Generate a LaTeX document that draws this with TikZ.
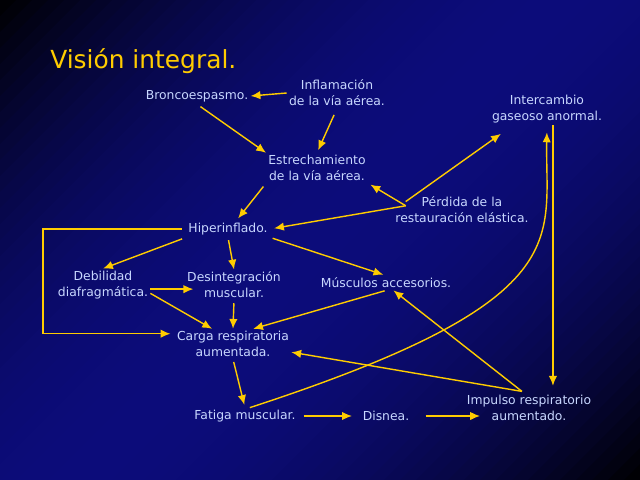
\documentclass[tikz,border=0pt]{standalone}
\usepackage{fontspec}
\setmainfont{DejaVu Sans}
\usetikzlibrary{arrows.meta}
\definecolor{gelb}{RGB}{255,204,0}
\definecolor{schrift}{RGB}{200,215,255}
\definecolor{marine}{RGB}{12,12,122}

\begin{document}
\begin{tikzpicture}[x=0.025cm, y=-0.025cm,
		>={Latex[length=7pt,width=6pt]},   %Pfeilspitzen
		txt/.style={text=schrift, align=center, inner sep=1.5pt, font=\fontsize{8.8}{11.4}\selectfont},
		pfeil/.style={->, gelb, line width=1pt}]
	% Hintergrund (Verlauf in diagonalen Streifen)
	\begin{scope}
		\clip (0,0) rectangle (640,480);
		\foreach \s in {0,16,...,1120} {
			\pgfmathsetmacro\p{max(0,min(100,100*(1-((\s+8-560)/560)^2)))}
			\fill[marine!\p!black] (\s,0) -- (\s+17,0) -- (\s+17-480,480) -- (\s-480,480) -- cycle;
		}
	\end{scope}
	\useasboundingbox (0,0) rectangle (640,480);
	% Titel
	\node[text=gelb, anchor=base west, inner sep=0pt, font=\fontsize{17.7}{20}\selectfont] (titel) at (50,68) {Visión integral.};
	% Knoten
	\node[txt] (bronco) at (197,96) {Broncoespasmo.};
	\node[txt] (infl) at (337,93) {Inflamación\\de la vía aérea.};
	\node[txt] (inter) at (547,109) {Intercambio\\gaseoso anormal.};
	\node[txt] (estr) at (317,168) {Estrechamiento\\de la vía aérea.};
	\node[txt] (perd) at (462,210) {Pérdida de la\\restauración elástica.};
	\node[txt] (hiper) at (228,229) {Hiperinflado.};
	\node[txt] (debil) at (103,285) {Debilidad\\diafragmática.};
	\node[txt] (desint) at (234,285) {Desintegración\\muscular.};
	\node[txt] (musc) at (386,283) {Músculos accesorios.};
	\node[txt] (carga) at (233,344) {Carga respiratoria\\aumentada.};
	\node[txt] (fatiga) at (245,416) {Fatiga muscular.};
	\node[txt] (disnea) at (386,416) {Disnea.};
	\node[txt] (impulso) at (529,408) {Impulso respiratorio\\aumentado.};
	\coordinate (perdq) at ([xshift=9pt,yshift=3pt]perd.west);
	\coordinate (impq) at ([xshift=-5pt,yshift=1pt]impulso.north);
	% Pfeile
	\draw[pfeil] (infl.west) -- (bronco.east);
	\draw[pfeil, shorten <=5pt, shorten >=2pt] (infl.south) -- (estr.north);
	\draw[pfeil, shorten <=3pt] (bronco.south) -- (estr.north west);
	\draw[pfeil, shorten <=3pt, shorten >=2pt] (estr.south west) -- (hiper.45);
	\draw[pfeil, shorten >=2pt] (perdq) -- (estr.south east);
	\draw[pfeil] ([yshift=3pt]perdq) -- ([xshift=8pt,yshift=-6pt]inter.south west);
	\draw[pfeil, shorten >=3pt] (perdq) -- (hiper.east);
	\draw[pfeil, shorten <=3pt] (hiper.south west) -- (debil.north);
	\draw[pfeil, shorten <=2pt] (hiper.south) -- (desint.north);
	\draw[pfeil, shorten <=2pt, shorten >=2pt] (hiper.south east) -- (musc.north);
	\draw[pfeil, shorten <=3pt, shorten >=3pt] (hiper.west) -- ++(-143,0) |- (carga.170);
	\draw[pfeil, shorten >=-6pt] (debil.-5) -- (debil.-5 -| desint.west);
	\draw[pfeil] (debil.-10) -- (carga.144);
	\draw[pfeil, shorten <=2pt] (desint.south) -- (carga.north);
	\draw[pfeil, shorten <=1pt] (musc.south) -- (carga.37);
	\draw[pfeil] (impq) -- (carga.-8);
	\draw[pfeil] (impq) -- (musc.-45);
	\draw[pfeil, shorten <=2pt, shorten >=2pt] (carga.south) -- (fatiga.north);
	\draw[pfeil, shorten >=5pt] (fatiga.60) .. controls (580,300) and (545,240) .. (inter.south);
	\draw[pfeil, shorten >=5pt] (inter.-70) -- (inter.-70 |- impulso.north);
	\draw[pfeil, shorten <=4pt, shorten >=6pt] (fatiga.east) -- (disnea.west);
	\draw[pfeil, shorten <=10pt, shorten >=-11pt] (disnea.east) -- (disnea.east -| impulso.west);
\end{tikzpicture}
\end{document}
